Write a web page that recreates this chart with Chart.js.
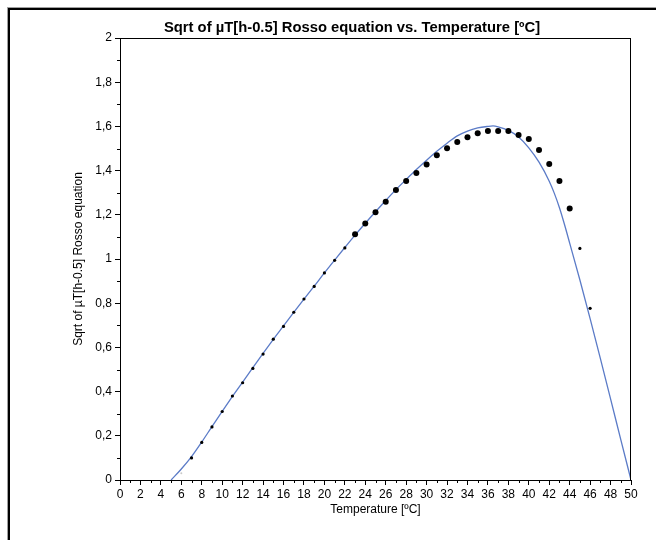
<!DOCTYPE html>
<html>
<head>
    <title>Sqrt of µT Rosso equation vs. Temperature</title>
    <script src="https://cdn.jsdelivr.net/npm/chart.js"></script>
    <style>
        body {
            margin: 0;
            background: white;
        }
        #wrap {
            width: 656px;
            height: 540px;
        }
    </style>
</head>
<body>
    <div id="wrap"><canvas id="roChart" width="656" height="540"></canvas></div>

    <script>
        // observed points (temperature, sqrt of growth rate)
        const temps = [6, 7, 8, 9, 10, 11, 12, 13, 14, 15, 16, 17, 18, 19, 20, 21, 22, 23, 24, 25, 26,
            27, 28, 29, 30, 31, 32, 33, 34, 35, 36, 37, 38, 39, 40, 41, 42, 43, 44, 45, 46];
        const sqrtMu = [0.03, 0.10, 0.17, 0.24, 0.31, 0.38, 0.44, 0.505, 0.57, 0.637, 0.695, 0.759, 0.819, 0.876, 0.937, 0.994, 1.05,
            1.112, 1.161, 1.211, 1.259, 1.312, 1.353, 1.389, 1.428, 1.469, 1.501, 1.529, 1.551, 1.569, 1.579, 1.579, 1.579,
            1.561, 1.543, 1.493, 1.43, 1.353, 1.229, 1.048, 0.777];

        // fitted Rosso curve
        const curveT = [5, 6, 7, 8, 9, 10, 11, 12, 13, 14, 15, 16, 17, 18, 19, 20, 21, 22, 23, 24, 25, 26, 27,
            28, 29, 30, 31, 32, 33, 34, 35, 36, 36.5, 37, 38, 39, 40, 41, 42, 42.5, 43, 43.5, 44, 45, 46, 47, 48, 49, 50];
        const curveY = [0, 0.05, 0.106, 0.172, 0.242, 0.311, 0.378, 0.443, 0.508, 0.573, 0.636, 0.697, 0.758, 0.818, 0.877,
            0.937, 0.995, 1.052, 1.108, 1.162, 1.214, 1.265, 1.314, 1.36, 1.405, 1.447, 1.487, 1.524, 1.557, 1.579, 1.593,
            1.600, 1.602, 1.598, 1.582, 1.552, 1.503, 1.438, 1.352, 1.297, 1.232, 1.155, 1.072, 0.905, 0.73, 0.55, 0.367, 0.183, 0];

        const titleText = "Sqrt of µT[h-0.5] Rosso equation vs. Temperature [ºC]";
        const xTitle = "Temperature [ºC]";
        const yTitle = "Sqrt of µT[h-0.5] Rosso equation";

        const FONT = "Arial, 'Liberation Sans', sans-serif";

        // frame, title, plot box and minor ticks
        const decor = {
            id: "decor",
            beforeDraw(chart) {
                const c = chart.ctx;
                c.save();
                c.fillStyle = "white";
                c.fillRect(0, 0, chart.width, chart.height);
                c.fillStyle = "#a0a0a0";
                c.fillRect(7, 7, chart.width, 1);
                c.fillRect(7, 7, 1, chart.height);
                c.fillStyle = "#000";
                c.fillRect(8, 8, chart.width, 2);
                c.fillRect(8, 8, 2, chart.height);
                c.restore();
            },
            afterDraw(chart) {
                const c = chart.ctx;
                const a = chart.chartArea;
                const xs = chart.scales.x, ys = chart.scales.y;
                c.save();
                c.strokeStyle = "#000";
                c.lineWidth = 1;
                c.strokeRect(Math.round(a.left) + 0.5, Math.round(a.top) + 0.5,
                    Math.round(a.right - a.left) - 1, Math.round(a.bottom - a.top));
                c.beginPath();
                for (let v = 1; v < 50; v += 2) {
                    const px = Math.round(xs.getPixelForValue(v)) + 0.5;
                    c.moveTo(px, a.bottom);
                    c.lineTo(px, a.bottom + 3);
                }
                for (let v = 1; v < 20; v += 2) {
                    const py = Math.round(ys.getPixelForValue(v / 10)) + 0.5;
                    c.moveTo(a.left - 3, py);
                    c.lineTo(a.left, py);
                }
                c.stroke();
                c.fillStyle = "#000";
                c.font = "bold 14.8px " + FONT;
                c.textAlign = "center";
                c.textBaseline = "middle";
                c.fillText(titleText, 352, 28);
                c.restore();
            }
        };

        const ctx = document.getElementById("roChart").getContext("2d");
        new Chart(ctx, {
            type: "scatter",
            data: {
                datasets: [{
                    label: "observed",
                    data: temps.map((t, i) => ({ x: t, y: sqrtMu[i] })),
                    order: 0,
                    backgroundColor: c => (c.raw && c.raw.x < 7) ? "#c8c8c8" : "#000",
                    borderWidth: 0,
                    pointRadius: c => {
                        const t = c.raw ? c.raw.x : 0;
                        if (t < 7) return 1;
                        return (t >= 23 && t <= 44) ? 3 : 1.6;
                    },
                    pointHoverRadius: 3
                }, {
                    label: "Rosso",
                    data: curveT.map((t, i) => ({ x: t, y: curveY[i] })),
                    order: 1,
                    showLine: true,
                    borderColor: "#5b7bc7",
                    borderWidth: 1.3,
                    pointRadius: 0,
                    cubicInterpolationMode: "monotone"
                }]
            },
            options: {
                responsive: false,
                animation: false,
                layout: { padding: { left: 0, right: 25, top: 38, bottom: 0 } },
                plugins: {
                    legend: { display: false },
                    tooltip: { enabled: false },
                    title: { display: false }
                },
                scales: {
                    x: {
                        type: "linear",
                        min: 0,
                        max: 50,
                        afterFit: s => { s.height = 60; },
                        grid: { drawOnChartArea: false, color: "#000", tickLength: 5 },
                        border: { color: "#000" },
                        ticks: {
                            stepSize: 2,
                            padding: 2,
                            maxRotation: 0,
                            autoSkip: false,
                            color: "#000",
                            font: { family: FONT, size: 12 }
                        },
                        title: {
                            display: true,
                            text: xTitle,
                            color: "#000",
                            font: { family: FONT, size: 12 },
                            padding: { top: 0, bottom: 23 }
                        }
                    },
                    y: {
                        type: "linear",
                        min: 0,
                        max: 2,
                        afterFit: s => { s.width = 120; },
                        grid: { drawOnChartArea: false, color: "#000", tickLength: 5 },
                        border: { color: "#000" },
                        ticks: {
                            stepSize: 0.2,
                            padding: 3,
                            color: "#000",
                            font: { family: FONT, size: 12 },
                            callback: v => {
                                const r = Math.round(v * 10) / 10;
                                return Number.isInteger(r) ? String(r) : r.toFixed(1).replace(".", ",");
                            }
                        },
                        title: {
                            display: true,
                            text: yTitle,
                            color: "#000",
                            font: { family: FONT, size: 12 },
                            padding: { top: 71, bottom: 0 }
                        }
                    }
                }
            },
            plugins: [decor]
        });
    </script>
</body>
</html>
